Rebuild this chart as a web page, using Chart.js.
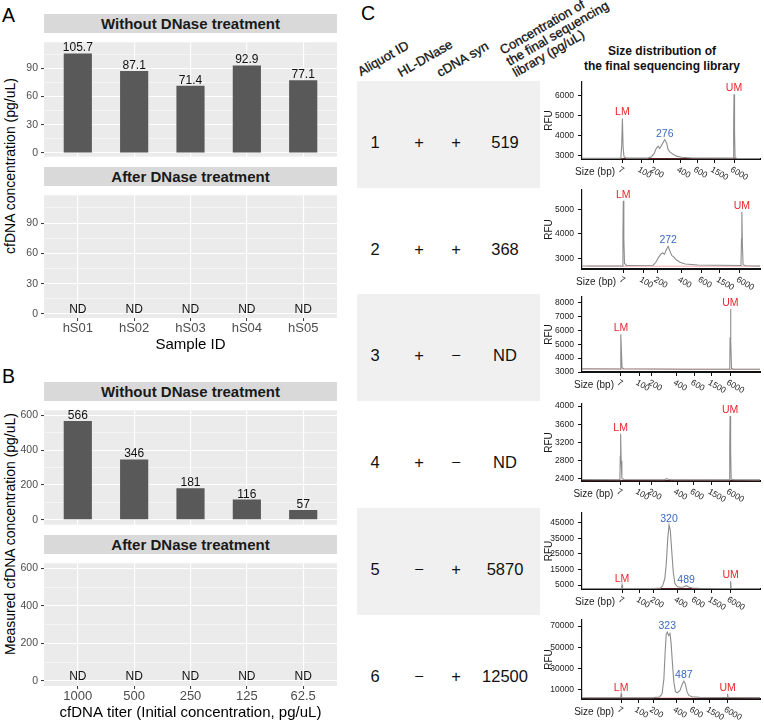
<!DOCTYPE html>
<html>
<head>
<meta charset="utf-8">
<title>cfDNA figure</title>
<script src="https://cdn.jsdelivr.net/npm/chart.js@4.4.1/dist/chart.umd.min.js"></script>
<style>
  body { margin: 0; background: #fff; }
  #fig { position: relative; width: 764px; height: 723px; overflow: hidden;
         font-family: "Liberation Sans", Arial, Helvetica, sans-serif; color: #1a1a1a; }
  #fig canvas, #fig div { position: absolute; }
  .lbl { font-size: 19.5px; line-height: 20px; color: #000; }
  .strip { background: #d9d9d9; font-weight: bold; font-size: 15px; line-height: 19px; height: 19px;
           text-align: center; color: #1a1a1a; }
  .ytitle { font-size: 14px; line-height: 16px; width: 320px; text-align: center; transform: rotate(-90deg); color: #000; }
  .rowbg { background: #f0f0f0; }
  .cell { font-size: 16.5px; line-height: 20px; width: 60px; text-align: center; color: #111; }
  .hdr { font-size: 13px; line-height: 13px; white-space: nowrap; transform-origin: 0 100%;
         transform: rotate(-30deg); color: #111; -webkit-text-stroke: 0.3px #111; }
  .sect { font-size: 12px; font-weight: bold; line-height: 15px; text-align: center; color: #111; }
</style>
</head>
<body>
<div id="fig"></div>
<script>
// Panel A - cfDNA per sample
const SAMPLE_IDS = ['hS01', 'hS02', 'hS03', 'hS04', 'hS05'];
const SAMPLE_WITHOUT_DNASE = [105.7, 87.1, 71.4, 92.9, 77.1];
const SAMPLE_AFTER_DNASE = [null, null, null, null, null];   // not detected
const SAMPLE_Y_TICKS = [0, 15, 30, 45, 60, 75, 90, 105];

// Panel B - titration series
const TITER_LABELS = ['1000', '500', '250', '125', '62.5'];
const TITER_WITHOUT_DNASE = [566, 346, 181, 116, 57];
const TITER_AFTER_DNASE = [null, null, null, null, null];
const TITER_Y_TICKS = [0, 100, 200, 300, 400, 500, 600];

// Panel C - table
const ALIQUOT_IDS = ['1', '2', '3', '4', '5', '6'];
const HL_DNASE = ['+', '+', '+', '+', '\u2212', '\u2212'];
const CDNA_SYN = ['+', '+', '\u2212', '\u2212', '+', '+'];
const LIBRARY_CONC = ['519', '368', 'ND', 'ND', '5870', '12500'];

// Panel C - electropherograms (x = run position 0-100, y = RFU)
const SIZE_LABELS = ['7', '100', '200', '400', '600', '1500', '6000'];

const SIZE_TICKS_1 = [22.5, 33.4, 40.3, 55.3, 64.7, 74.3, 85.4];
const RFU_TICKS_1 = [3000, 4000, 5000, 6000];
const RFU_RANGE_1 = [2837, 6657];
const TRACE_1 = [[0, 2870], [21.8, 2870], [22.3, 3500], [22.7, 4850], [23.1, 3400], [23.6, 2950], [25, 2880],
  [37, 2880], [39, 2950], [40.5, 3100], [41.8, 3380], [42.8, 3470], [43.6, 3360], [44.6, 3500], [46.5, 3800],
  [47.6, 3620], [48.4, 3300], [49.5, 3180], [51, 3080], [53, 2980], [56, 2920], [62, 2890], [85.0, 2880],
  [85.2, 4500], [85.4, 6050], [85.7, 4200], [86.0, 2900], [87, 2870], [100, 2860]];
const LADDER_1 = [[3, 2855], [100, 2850]];
const PEAKS_1 = [['LM', 22.7], ['276', 46.5], ['UM', 85.4]];

const SIZE_TICKS_2 = [23.1, 34.3, 42.4, 55.9, 67.2, 77.5, 88.7];
const RFU_TICKS_2 = [3000, 4000, 5000];
const RFU_RANGE_2 = [2576, 5788];
const TRACE_2 = [[0, 2700], [22.7, 2700], [23.0, 4000], [23.2, 5350], [23.5, 3800], [23.9, 2800], [25, 2720],
  [40, 2730], [41.5, 2850], [43, 3050], [44.5, 3200], [45.4, 3230], [46.3, 3170], [47.3, 3350], [48.4, 3500],
  [49.4, 3300], [50.5, 3120], [51.5, 3070], [53, 2950], [55, 2850], [58, 2780], [65, 2740], [89.3, 2720],
  [89.6, 3800], [89.8, 4900], [90.1, 3600], [90.5, 2750], [92, 2710], [100, 2700]];
const LADDER_2 = [[3, 2690], [100, 2690]];
const PEAKS_2 = [['LM', 23.2], ['272', 48.4], ['UM', 89.8]];

const SIZE_TICKS_3 = [21.9, 32.3, 39.3, 53.3, 63.2, 72.9, 83.2];
const RFU_TICKS_3 = [3000, 4000, 5000, 6000, 7000, 8000];
const RFU_RANGE_3 = [3000, 8390];
const TRACE_3 = [[0, 3230], [21.5, 3220], [21.7, 4500], [21.9, 5720], [22.2, 4300], [22.5, 3300], [23.5, 3230],
  [60, 3200], [83.0, 3200], [83.2, 5500], [83.4, 7530], [83.7, 5200], [84.0, 3250], [85, 3210], [100, 3200]];
const LADDER_3 = [[0, 3215], [100, 3195]];
const PEAKS_3 = [['LM', 21.9], ['UM', 83.4]];

const SIZE_TICKS_4 = [21.6, 32.1, 39, 53.5, 62.8, 72.8, 83.1];
const RFU_TICKS_4 = [2400, 2800, 3200, 3600, 4000];
const RFU_RANGE_4 = [2356, 4044];
const TRACE_4 = [[0, 2390], [21.3, 2385], [21.5, 2900], [21.7, 3390], [22.0, 2800], [22.4, 2420], [23.5, 2390],
  [46.5, 2385], [47.5, 2410], [48.5, 2395], [50, 2385], [82.9, 2380], [83.0, 3100], [83.2, 3780], [83.5, 3000],
  [83.8, 2400], [85, 2385], [100, 2380]];
const LADDER_4 = [[0, 2378], [100, 2372]];
const PEAKS_4 = [['LM', 21.7], ['UM', 83.2]];

const SIZE_TICKS_5 = [22.5, 32.5, 40.3, 53.7, 63.4, 72.8, 83.5];
const RFU_TICKS_5 = [5000, 15000, 25000, 35000, 45000];
const RFU_RANGE_5 = [2460, 51100];
const TRACE_5 = [[0, 2700], [22.2, 2700], [22.5, 5200], [22.8, 2750], [40, 2800], [44, 3000], [45.3, 4500],
  [46.5, 9000], [47.3, 18000], [48.2, 35000], [48.9, 43500], [49.6, 40000], [50.4, 27000], [51.3, 13000],
  [52.2, 6000], [53.5, 4000], [55, 3600], [57, 3700], [58.5, 4600], [60, 3700], [62, 3100], [66, 2900],
  [83.2, 2750], [83.5, 7500], [83.8, 2750], [100, 2700]];
const LADDER_5 = [[3, 2650], [100, 2650]];
const PEAKS_5 = [['LM', 22.5], ['320', 48.9], ['489', 58.5], ['UM', 83.5]];

const SIZE_TICKS_6 = [22, 31.6, 40, 53.2, 62.4, 71.8, 81.8];
const RFU_TICKS_6 = [10000, 30000, 50000, 70000];
const RFU_RANGE_6 = [1090, 75700];
const TRACE_6 = [[0, 2300], [21.7, 2300], [22, 6000], [22.3, 2300], [40, 2400], [43.5, 3000], [45, 6000],
  [46, 20000], [46.7, 45000], [47.3, 62000], [47.9, 64300], [48.7, 61000], [49.4, 63000], [50, 55000],
  [50.8, 35000], [51.6, 17000], [52.5, 8000], [53.5, 7000], [55, 9000], [56.3, 15000], [57.2, 18000],
  [58, 15500], [59, 8000], [60, 4500], [62, 3200], [66, 2700], [81.5, 2500], [81.8, 6000], [82.1, 2500],
  [100, 2400]];
const LADDER_6 = [[3, 2100], [100, 2100]];
const PEAKS_6 = [['LM', 22], ['323', 47.9], ['487', 57.2], ['UM', 81.8]];

const FONT = '"Liberation Sans", Arial, Helvetica, sans-serif';
const RED = '#e8262d';
const BLUE = '#3a68bd';
Chart.defaults.font.family = FONT;

const fig = document.getElementById('fig');

function put(tag, cls, left, top, w, h, html) {
  const el = document.createElement(tag);
  if (cls) el.className = cls;
  el.style.left = left + 'px';
  el.style.top = top + 'px';
  if (w != null) el.style.width = w + 'px';
  if (h != null) el.style.height = h + 'px';
  if (html != null) el.innerHTML = html;
  fig.appendChild(el);
  return el;
}

function canvasAt(left, top, w, h) {
  const c = put('canvas', null, left, top, w, h);
  c.width = w;
  c.height = h;
  return c;
}

// grey ggplot panel background
const panelBg = {
  id: 'panelBg',
  beforeDraw(chart) {
    const a = chart.chartArea;
    chart.ctx.save();
    chart.ctx.fillStyle = '#ebebeb';
    chart.ctx.fillRect(a.left, a.top, a.right - a.left, a.bottom - a.top);
    chart.ctx.restore();
  }
};

// value labels above bars, ND where nothing was measured
const barText = {
  id: 'barText',
  afterDatasetsDraw(chart) {
    const ctx = chart.ctx, x = chart.scales.x, y = chart.scales.y;
    ctx.save();
    ctx.font = '12px ' + FONT;
    ctx.fillStyle = '#111';
    ctx.textAlign = 'center';
    ctx.textBaseline = 'alphabetic';
    chart.data.datasets[0].data.forEach(p => {
      const px = x.getPixelForValue(p.x);
      if (p.y == null) ctx.fillText('ND', px, y.getPixelForValue(0) - 1);
      else ctx.fillText(String(p.y), px, y.getPixelForValue(p.y) - 2);
    });
    ctx.restore();
  }
};

function facet(canvas, names, values, yTicks, major, yRange, axisH, xTitle) {
  const showAxis = axisH > 0;
  return new Chart(canvas, {
    type: 'bar',
    data: {
      datasets: [{
        data: values.map((v, i) => ({ x: i, y: v })),
        backgroundColor: '#595959',
        borderWidth: 0,
        barPercentage: 0.5,
        categoryPercentage: 1
      }]
    },
    options: {
      responsive: false,
      animation: false,
      events: [],
      layout: { padding: { top: 0, right: 3, bottom: 0, left: 0 } },
      plugins: { legend: { display: false }, tooltip: { enabled: false } },
      scales: {
        x: {
          type: 'linear',
          offset: false,
          min: -0.6,
          max: names.length - 0.4,
          afterBuildTicks: s => { s.ticks = names.map((_, i) => ({ value: i })); },
          afterFit: s => { s.height = axisH; },
          ticks: {
            display: showAxis, autoSkip: false, maxRotation: 0, padding: 0,
            color: '#4d4d4d', font: { size: 13 },
            callback: v => names[v]
          },
          grid: { offset: false, color: '#ffffff', lineWidth: 1.1, drawTicks: showAxis, tickLength: 3, tickColor: '#333333', tickWidth: 1 },
          border: { display: false },
          title: { display: showAxis, text: xTitle, color: '#000', font: { size: 15 }, padding: 0 }
        },
        y: {
          min: yRange[0],
          max: yRange[1],
          afterBuildTicks: s => { s.ticks = yTicks.map(v => ({ value: v })); },
          afterFit: s => { s.width = 44; },
          ticks: {
            autoSkip: false, padding: 3, color: '#4d4d4d', font: { size: 10.5 },
            callback: v => (v % major === 0 ? String(v) : '')
          },
          grid: {
            color: '#ffffff',
            lineWidth: c => (c.tick && c.tick.value % major === 0 ? 1.1 : 0.5),
            tickLength: 3,
            tickColor: c => (c.tick && c.tick.value % major === 0 ? '#333333' : 'rgba(0,0,0,0)'),
            tickWidth: 1
          },
          border: { display: false }
        }
      }
    },
    plugins: [panelBg, barText]
  });
}

// size labels, axis caption and peak names for one electropherogram
function epText(spec) {
  return {
    id: 'epText',
    afterDatasetsDraw(chart) {
      const ctx = chart.ctx, area = chart.chartArea;
      const x = chart.scales.x, y = chart.scales.y;
      ctx.save();
      ctx.fillStyle = '#1a1a1a';
      ctx.font = '8.5px ' + FONT;
      ctx.textAlign = 'left';
      ctx.textBaseline = 'middle';
      spec.xTicks.forEach((v, i) => {
        ctx.save();
        ctx.translate(x.getPixelForValue(v) - 3, area.bottom + 10);
        ctx.rotate(Math.PI / 6);
        ctx.fillText(SIZE_LABELS[i], 0, 0);
        ctx.restore();
      });
      ctx.font = '10px ' + FONT;
      ctx.textAlign = 'right';
      ctx.fillText('Size (bp)', x.getPixelForValue(spec.xTicks[0]) - 7, area.bottom + 13);

      ctx.font = '10.5px ' + FONT;
      ctx.textAlign = 'center';
      ctx.textBaseline = 'alphabetic';
      spec.peaks.forEach(([txt, pos]) => {
        const near = spec.trace.filter(p => Math.abs(p[0] - pos) <= 0.8);
        const top = Math.max(...near.map(p => p[1]));
        ctx.fillStyle = (txt === 'LM' || txt === 'UM') ? RED : BLUE;
        ctx.fillText(txt, x.getPixelForValue(pos), y.getPixelForValue(top) - 3);
      });
      ctx.restore();
    }
  };
}

function electropherogram(canvas, spec) {
  return new Chart(canvas, {
    type: 'line',
    data: {
      datasets: [
        { data: spec.trace.map(p => ({ x: p[0], y: p[1] })), borderColor: '#8d8d8d', borderWidth: 1.1, pointRadius: 0, tension: 0 },
        { data: spec.ladder.map(p => ({ x: p[0], y: p[1] })), borderColor: 'rgba(226,70,70,0.45)', borderWidth: 1, pointRadius: 0, tension: 0 }
      ]
    },
    options: {
      responsive: false,
      animation: false,
      events: [],
      layout: { padding: { top: 10, right: 4, bottom: 0, left: 0 } },
      plugins: { legend: { display: false }, tooltip: { enabled: false } },
      scales: {
        x: {
          type: 'linear', min: 0, max: 100,
          afterBuildTicks: s => { s.ticks = spec.xTicks.map(v => ({ value: v })); },
          afterFit: s => { s.height = 32; },
          ticks: { display: false },
          grid: { drawOnChartArea: false, drawTicks: true, tickLength: 4, tickColor: '#111', tickWidth: 1 },
          border: { color: '#111', width: 2 }
        },
        y: {
          min: spec.range[0], max: spec.range[1],
          afterBuildTicks: s => { s.ticks = spec.yTicks.map(v => ({ value: v })); },
          afterFit: s => { s.width = 52; },
          ticks: { autoSkip: false, padding: 4, color: '#1a1a1a', font: { size: 8.5 }, callback: v => String(v) },
          grid: { drawOnChartArea: false, drawTicks: true, tickLength: 4, tickColor: '#111', tickWidth: 1 },
          border: { color: '#111', width: 1.2 },
          title: { display: true, text: 'RFU', color: '#1a1a1a', font: { size: 10 }, padding: { top: 13, bottom: 0 } }
        }
      }
    },
    plugins: [epText(spec)]
  });
}

// ---------- Panel A ----------
put('div', 'lbl', 2, 5, null, null, 'A');
put('div', 'ytitle', -150, 158, null, null, 'cfDNA concentration (pg/uL)');
put('div', 'strip', 44, 14, 293, null, 'Without DNase treatment');
facet(canvasAt(0, 33, 340, 133), SAMPLE_IDS, SAMPLE_WITHOUT_DNASE, SAMPLE_Y_TICKS, 30, [-4, 117.5], 0, '');
put('div', 'strip', 44, 167, 293, null, 'After DNase treatment');
facet(canvasAt(0, 186, 340, 168), SAMPLE_IDS, SAMPLE_AFTER_DNASE, SAMPLE_Y_TICKS, 30, [-4, 117.5], 36, 'Sample ID');

// ---------- Panel B ----------
put('div', 'lbl', 2, 366, null, null, 'B');
put('div', 'ytitle', -150, 526, null, null, 'Measured cfDNA concentration (pg/uL)');
put('div', 'strip', 44, 382, 293, null, 'Without DNase treatment');
facet(canvasAt(0, 401, 340, 133), TITER_LABELS, TITER_WITHOUT_DNASE, TITER_Y_TICKS, 200, [-28, 628], 0, '');
put('div', 'strip', 44, 535, 293, null, 'After DNase treatment');
facet(canvasAt(0, 554, 340, 168), TITER_LABELS, TITER_AFTER_DNASE, TITER_Y_TICKS, 200, [-28, 628], 36,
  'cfDNA titer (Initial concentration, pg/uL)');

// ---------- Panel C ----------
put('div', 'lbl', 361, 3, null, null, 'C');
put('div', 'hdr', 362, 65, null, null, 'Aliquot ID');
put('div', 'hdr', 402, 66, null, null, 'HL-DNase');
put('div', 'hdr', 441, 66, null, null, 'cDNA syn');
put('div', 'hdr', 517, 40, null, null, 'Concentration of<br>the final sequencing<br>library (pg/uL)');
put('div', 'sect', 562, 44, 200, null, 'Size distribution of<br>the final sequencing library');

const ROW_H = 106.7;
const COL_X = [375, 419, 456, 505];
ALIQUOT_IDS.forEach((id, i) => {
  if (i % 2 === 0) put('div', 'rowbg', 357, 81 + i * ROW_H, 183, 107);
});
ALIQUOT_IDS.forEach((id, i) => {
  const cy = 142 + i * ROW_H;
  [id, HL_DNASE[i], CDNA_SYN[i], LIBRARY_CONC[i]].forEach((t, j) => {
    put('div', 'cell', COL_X[j] - 30, cy - 10, null, null, t);
  });
});

const EP_SPECS = [
  { top: 82, bottom: 159, range: RFU_RANGE_1, yTicks: RFU_TICKS_1, xTicks: SIZE_TICKS_1, trace: TRACE_1, ladder: LADDER_1, peaks: PEAKS_1 },
  { top: 190, bottom: 269, range: RFU_RANGE_2, yTicks: RFU_TICKS_2, xTicks: SIZE_TICKS_2, trace: TRACE_2, ladder: LADDER_2, peaks: PEAKS_2 },
  { top: 297, bottom: 372, range: RFU_RANGE_3, yTicks: RFU_TICKS_3, xTicks: SIZE_TICKS_3, trace: TRACE_3, ladder: LADDER_3, peaks: PEAKS_3 },
  { top: 404, bottom: 481, range: RFU_RANGE_4, yTicks: RFU_TICKS_4, xTicks: SIZE_TICKS_4, trace: TRACE_4, ladder: LADDER_4, peaks: PEAKS_4 },
  { top: 513, bottom: 589, range: RFU_RANGE_5, yTicks: RFU_TICKS_5, xTicks: SIZE_TICKS_5, trace: TRACE_5, ladder: LADDER_5, peaks: PEAKS_5 },
  { top: 620, bottom: 699, range: RFU_RANGE_6, yTicks: RFU_TICKS_6, xTicks: SIZE_TICKS_6, trace: TRACE_6, ladder: LADDER_6, peaks: PEAKS_6 }
];
EP_SPECS.forEach(spec => {
  const c = canvasAt(530, spec.top - 10, 234, spec.bottom - spec.top + 10 + 32);
  electropherogram(c, spec);
});
</script>
</body>
</html>
